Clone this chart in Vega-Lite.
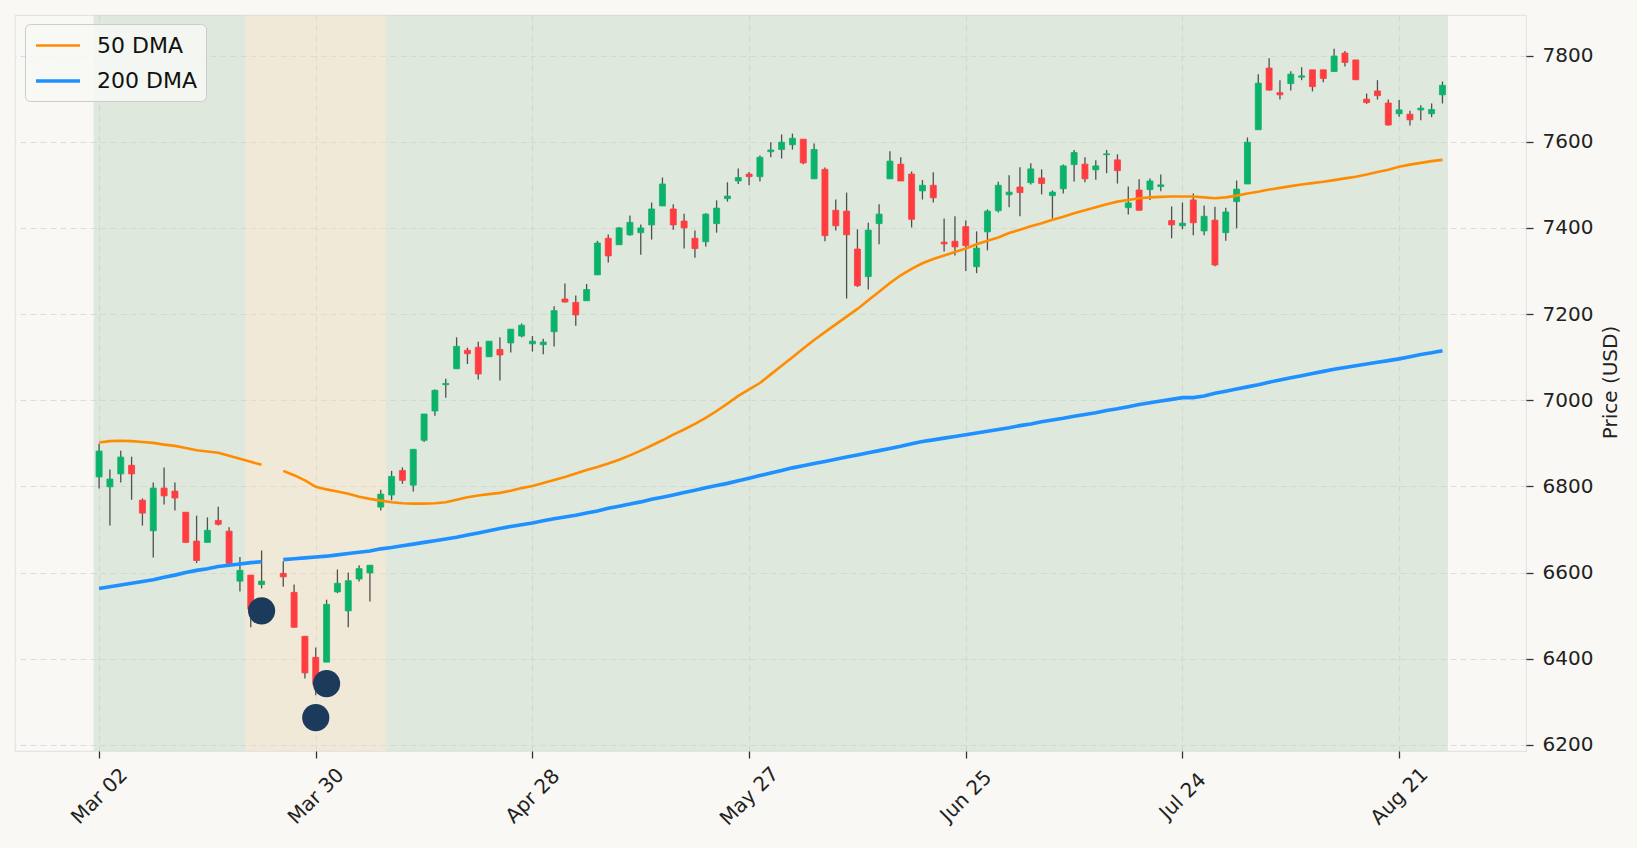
{
  "$schema": "https://vega.github.io/schema/vega-lite/v6.json",
  "autosize": {"type": "none"},
  "padding": {"left": 15, "top": 15, "right": 111, "bottom": 97},
  "width": 1511,
  "height": 736,
  "background": "#f9f8f4",
  "config": {
    "font": "DejaVu Sans",
    "view": {"stroke": "#e4e4e4", "strokeWidth": 1.2},
    "axis": {"labelFont": "DejaVu Sans", "titleFont": "DejaVu Sans"}
  },
  "datasets": {
    "regimes": [
      {"x0": -0.5, "x1": 13.5, "regime": "up"},
      {"x0": 13.5, "x1": 26.5, "regime": "down"},
      {"x0": 26.5, "x1": 124.5, "regime": "up"}
    ],
    "signals": [
      {"i": 15, "v": 6511},
      {"i": 20, "v": 6263},
      {"i": 21, "v": 6342}
    ],
    "bars": [
      {"i":0,"o":6822,"h":6899,"l":6795,"c":6882,"m50":6902,"m200":6563},
      {"i":1,"o":6799,"h":6839,"l":6709,"c":6817,"m50":6905,"m200":6567},
      {"i":2,"o":6829,"h":6883,"l":6809,"c":6868,"m50":6906,"m200":6571},
      {"i":3,"o":6849,"h":6869,"l":6769,"c":6829,"m50":6905,"m200":6575},
      {"i":4,"o":6768,"h":6772,"l":6709,"c":6738,"m50":6903,"m200":6579},
      {"i":5,"o":6697,"h":6809,"l":6635,"c":6796,"m50":6901,"m200":6583},
      {"i":6,"o":6796,"h":6844,"l":6758,"c":6778,"m50":6897,"m200":6589},
      {"i":7,"o":6789,"h":6809,"l":6744,"c":6773,"m50":6894,"m200":6594},
      {"i":8,"o":6740,"h":6740,"l":6669,"c":6670,"m50":6889,"m200":6600},
      {"i":9,"o":6673,"h":6732,"l":6622,"c":6628,"m50":6884,"m200":6605},
      {"i":10,"o":6670,"h":6728,"l":6670,"c":6698,"m50":6881,"m200":6609},
      {"i":11,"o":6721,"h":6753,"l":6709,"c":6712,"m50":6878,"m200":6614},
      {"i":12,"o":6696,"h":6705,"l":6621,"c":6621,"m50":6871,"m200":6617},
      {"i":13,"o":6580,"h":6636,"l":6556,"c":6605,"m50":6864,"m200":6620},
      {"i":14,"o":6594,"h":6594,"l":6473,"c":6515,"m50":6857,"m200":6623},
      {"i":15,"o":6572,"h":6651,"l":6563,"c":6580,"m50":6850,"m200":6625},
      {"i":16,"o":null,"h":null,"l":null,"c":null,"m50":null,"m200":null},
      {"i":17,"o":6598,"h":6626,"l":6567,"c":6590,"m50":6836,"m200":6630},
      {"i":18,"o":6554,"h":6572,"l":6472,"c":6473,"m50":6826,"m200":6632},
      {"i":19,"o":6452,"h":6452,"l":6354,"c":6367,"m50":6814,"m200":6634},
      {"i":20,"o":6403,"h":6426,"l":6315,"c":6340,"m50":6799,"m200":6636},
      {"i":21,"o":6392,"h":6537,"l":6392,"c":6526,"m50":6793,"m200":6638},
      {"i":22,"o":6555,"h":6607,"l":6552,"c":6575,"m50":6788,"m200":6641},
      {"i":23,"o":6511,"h":6600,"l":6473,"c":6581,"m50":6783,"m200":6644},
      {"i":24,"o":6585,"h":6617,"l":6579,"c":6609,"m50":6776,"m200":6647},
      {"i":25,"o":6599,"h":6617,"l":6533,"c":6617,"m50":6771,"m200":6650},
      {"i":26,"o":6752,"h":6792,"l":6744,"c":6782,"m50":6767,"m200":6655},
      {"i":27,"o":6780,"h":6836,"l":6768,"c":6823,"m50":6763,"m200":6658},
      {"i":28,"o":6837,"h":6844,"l":6806,"c":6814,"m50":6761,"m200":6662},
      {"i":29,"o":6803,"h":6886,"l":6788,"c":6886,"m50":6760,"m200":6666},
      {"i":30,"o":6907,"h":6968,"l":6903,"c":6968,"m50":6760,"m200":6670},
      {"i":31,"o":6975,"h":7025,"l":6964,"c":7023,"m50":6761,"m200":6674},
      {"i":32,"o":7036,"h":7050,"l":7006,"c":7039,"m50":6763,"m200":6678},
      {"i":33,"o":7073,"h":7146,"l":7073,"c":7125,"m50":6769,"m200":6682},
      {"i":34,"o":7116,"h":7122,"l":7084,"c":7108,"m50":6775,"m200":6687},
      {"i":35,"o":7123,"h":7136,"l":7048,"c":7061,"m50":6779,"m200":6692},
      {"i":36,"o":7101,"h":7137,"l":7101,"c":7137,"m50":6782,"m200":6697},
      {"i":37,"o":7118,"h":7146,"l":7046,"c":7105,"m50":6785,"m200":6702},
      {"i":38,"o":7133,"h":7165,"l":7111,"c":7165,"m50":6790,"m200":6707},
      {"i":39,"o":7149,"h":7178,"l":7146,"c":7174,"m50":6796,"m200":6711},
      {"i":40,"o":7131,"h":7149,"l":7113,"c":7137,"m50":6801,"m200":6715},
      {"i":41,"o":7129,"h":7143,"l":7107,"c":7135,"m50":6808,"m200":6720},
      {"i":42,"o":7159,"h":7218,"l":7125,"c":7208,"m50":6815,"m200":6725},
      {"i":43,"o":7235,"h":7271,"l":7227,"c":7228,"m50":6822,"m200":6729},
      {"i":44,"o":7227,"h":7243,"l":7173,"c":7198,"m50":6830,"m200":6733},
      {"i":45,"o":7231,"h":7270,"l":7231,"c":7257,"m50":6838,"m200":6738},
      {"i":46,"o":7291,"h":7370,"l":7291,"c":7365,"m50":6845,"m200":6743},
      {"i":47,"o":7376,"h":7385,"l":7320,"c":7335,"m50":6853,"m200":6749},
      {"i":48,"o":7361,"h":7402,"l":7361,"c":7400,"m50":6862,"m200":6754},
      {"i":49,"o":7384,"h":7429,"l":7382,"c":7413,"m50":6872,"m200":6759},
      {"i":50,"o":7389,"h":7408,"l":7338,"c":7400,"m50":6883,"m200":6764},
      {"i":51,"o":7407,"h":7459,"l":7373,"c":7444,"m50":6895,"m200":6770},
      {"i":52,"o":7451,"h":7517,"l":7451,"c":7502,"m50":6907,"m200":6775},
      {"i":53,"o":7444,"h":7455,"l":7396,"c":7407,"m50":6920,"m200":6780},
      {"i":54,"o":7416,"h":7433,"l":7352,"c":7400,"m50":6932,"m200":6786},
      {"i":55,"o":7376,"h":7394,"l":7331,"c":7352,"m50":6945,"m200":6791},
      {"i":56,"o":7368,"h":7434,"l":7357,"c":7432,"m50":6959,"m200":6797},
      {"i":57,"o":7410,"h":7464,"l":7389,"c":7446,"m50":6975,"m200":6802},
      {"i":58,"o":7468,"h":7506,"l":7461,"c":7474,"m50":6992,"m200":6807},
      {"i":59,"o":7509,"h":7538,"l":7502,"c":7517,"m50":7010,"m200":6813},
      {"i":60,"o":7525,"h":7530,"l":7499,"c":7519,"m50":7025,"m200":6819},
      {"i":61,"o":7519,"h":7568,"l":7508,"c":7564,"m50":7040,"m200":6825},
      {"i":62,"o":7577,"h":7599,"l":7564,"c":7581,"m50":7060,"m200":6831},
      {"i":63,"o":7582,"h":7617,"l":7561,"c":7599,"m50":7080,"m200":6837},
      {"i":64,"o":7593,"h":7619,"l":7582,"c":7608,"m50":7100,"m200":6843},
      {"i":65,"o":7606,"h":7606,"l":7548,"c":7551,"m50":7120,"m200":6848},
      {"i":66,"o":7514,"h":7596,"l":7514,"c":7582,"m50":7140,"m200":6853},
      {"i":67,"o":7536,"h":7540,"l":7369,"c":7382,"m50":7158,"m200":6858},
      {"i":68,"o":7441,"h":7466,"l":7394,"c":7405,"m50":7176,"m200":6863},
      {"i":69,"o":7439,"h":7482,"l":7236,"c":7384,"m50":7194,"m200":6868},
      {"i":70,"o":7351,"h":7397,"l":7263,"c":7266,"m50":7212,"m200":6873},
      {"i":71,"o":7287,"h":7412,"l":7257,"c":7395,"m50":7232,"m200":6878},
      {"i":72,"o":7410,"h":7455,"l":7362,"c":7432,"m50":7252,"m200":6883},
      {"i":73,"o":7514,"h":7578,"l":7514,"c":7555,"m50":7272,"m200":6888},
      {"i":74,"o":7548,"h":7564,"l":7509,"c":7509,"m50":7290,"m200":6893},
      {"i":75,"o":7525,"h":7531,"l":7401,"c":7420,"m50":7305,"m200":6899},
      {"i":76,"o":7486,"h":7511,"l":7466,"c":7499,"m50":7318,"m200":6904},
      {"i":77,"o":7499,"h":7529,"l":7459,"c":7470,"m50":7328,"m200":6908},
      {"i":78,"o":7367,"h":7422,"l":7345,"c":7363,"m50":7336,"m200":6912},
      {"i":79,"o":7369,"h":7427,"l":7336,"c":7356,"m50":7344,"m200":6916},
      {"i":80,"o":7403,"h":7417,"l":7300,"c":7359,"m50":7352,"m200":6920},
      {"i":81,"o":7310,"h":7392,"l":7295,"c":7353,"m50":7362,"m200":6924},
      {"i":82,"o":7391,"h":7443,"l":7348,"c":7439,"m50":7370,"m200":6928},
      {"i":83,"o":7440,"h":7507,"l":7436,"c":7499,"m50":7378,"m200":6932},
      {"i":84,"o":7477,"h":7522,"l":7448,"c":7483,"m50":7388,"m200":6936},
      {"i":85,"o":7495,"h":7541,"l":7427,"c":7482,"m50":7396,"m200":6941},
      {"i":86,"o":7505,"h":7550,"l":7501,"c":7537,"m50":7404,"m200":6945},
      {"i":87,"o":7516,"h":7536,"l":7478,"c":7503,"m50":7411,"m200":6950},
      {"i":88,"o":7475,"h":7487,"l":7422,"c":7483,"m50":7419,"m200":6954},
      {"i":89,"o":7491,"h":7547,"l":7480,"c":7544,"m50":7426,"m200":6958},
      {"i":90,"o":7547,"h":7581,"l":7508,"c":7575,"m50":7434,"m200":6963},
      {"i":91,"o":7548,"h":7564,"l":7506,"c":7514,"m50":7441,"m200":6967},
      {"i":92,"o":7535,"h":7557,"l":7512,"c":7544,"m50":7448,"m200":6971},
      {"i":93,"o":7570,"h":7581,"l":7527,"c":7572,"m50":7455,"m200":6976},
      {"i":94,"o":7558,"h":7571,"l":7503,"c":7533,"m50":7461,"m200":6980},
      {"i":95,"o":7447,"h":7496,"l":7431,"c":7458,"m50":7465,"m200":6985},
      {"i":96,"o":7488,"h":7513,"l":7441,"c":7441,"m50":7469,"m200":6990},
      {"i":97,"o":7489,"h":7515,"l":7465,"c":7509,"m50":7471,"m200":6994},
      {"i":98,"o":7496,"h":7524,"l":7485,"c":7500,"m50":7472,"m200":6998},
      {"i":99,"o":7417,"h":7450,"l":7376,"c":7407,"m50":7473,"m200":7002},
      {"i":100,"o":7405,"h":7459,"l":7397,"c":7411,"m50":7473,"m200":7006},
      {"i":101,"o":7465,"h":7480,"l":7383,"c":7412,"m50":7473,"m200":7006},
      {"i":102,"o":7393,"h":7452,"l":7383,"c":7427,"m50":7471,"m200":7010},
      {"i":103,"o":7418,"h":7449,"l":7311,"c":7314,"m50":7469,"m200":7016},
      {"i":104,"o":7389,"h":7447,"l":7370,"c":7437,"m50":7471,"m200":7021},
      {"i":105,"o":7461,"h":7510,"l":7399,"c":7490,"m50":7475,"m200":7026},
      {"i":106,"o":7502,"h":7610,"l":7502,"c":7599,"m50":7480,"m200":7031},
      {"i":107,"o":7628,"h":7757,"l":7628,"c":7736,"m50":7484,"m200":7036},
      {"i":108,"o":7771,"h":7794,"l":7719,"c":7720,"m50":7489,"m200":7042},
      {"i":109,"o":7714,"h":7743,"l":7698,"c":7709,"m50":7493,"m200":7047},
      {"i":110,"o":7735,"h":7764,"l":7719,"c":7757,"m50":7497,"m200":7052},
      {"i":111,"o":7750,"h":7773,"l":7743,"c":7753,"m50":7501,"m200":7057},
      {"i":112,"o":7767,"h":7767,"l":7717,"c":7728,"m50":7504,"m200":7062},
      {"i":113,"o":7767,"h":7767,"l":7738,"c":7747,"m50":7507,"m200":7067},
      {"i":114,"o":7763,"h":7816,"l":7763,"c":7799,"m50":7511,"m200":7072},
      {"i":115,"o":7806,"h":7811,"l":7775,"c":7784,"m50":7515,"m200":7076},
      {"i":116,"o":7790,"h":7790,"l":7744,"c":7744,"m50":7519,"m200":7080},
      {"i":117,"o":7699,"h":7712,"l":7688,"c":7691,"m50":7524,"m200":7084},
      {"i":118,"o":7718,"h":7743,"l":7698,"c":7707,"m50":7530,"m200":7088},
      {"i":119,"o":7690,"h":7698,"l":7637,"c":7639,"m50":7535,"m200":7092},
      {"i":120,"o":7665,"h":7697,"l":7658,"c":7674,"m50":7542,"m200":7096},
      {"i":121,"o":7664,"h":7672,"l":7638,"c":7651,"m50":7547,"m200":7101},
      {"i":122,"o":7674,"h":7685,"l":7650,"c":7678,"m50":7551,"m200":7106},
      {"i":123,"o":7665,"h":7689,"l":7657,"c":7675,"m50":7555,"m200":7110},
      {"i":124,"o":7709,"h":7740,"l":7689,"c":7731,"m50":7558,"m200":7115}
    ]
  },
  "layer": [
    {
      "data": {"name": "regimes"},
      "mark": {"type": "rect", "opacity": 0.5},
      "encoding": {
        "x": {
          "field": "x0", "type": "quantitative",
          "scale": {"domain": [-7.3, 131.25], "nice": false, "zero": false},
          "axis": {
            "title": null,
            "values": [0, 20, 40, 60, 80, 100, 120],
            "labelExpr": "datum.value == 0 ? 'Mar 02' : datum.value == 20 ? 'Mar 30' : datum.value == 40 ? 'Apr 28' : datum.value == 60 ? 'May 27' : datum.value == 80 ? 'Jun 25' : datum.value == 100 ? 'Jul 24' : 'Aug 21'",
            "labelAngle": -45,
            "labelAlign": "center",
            "labelBaseline": "middle",
            "labelPadding": 38,
            "labelFontSize": 20,
            "labelColor": "#222222",
            "tickSize": 7,
            "tickWidth": 1.3,
            "tickColor": "#333333",
            "domain": false,
            "grid": true,
            "gridDash": [6, 4],
            "gridColor": "#dcdcdc",
            "gridWidth": 1.2
          }
        },
        "x2": {"field": "x1"},
        "fill": {
          "field": "regime", "type": "nominal",
          "scale": {"domain": ["up", "down"], "range": ["#c3d8c6", "#e9daba"]},
          "legend": null
        }
      }
    },
    {
      "data": {"name": "bars"},
      "mark": {"type": "rule", "color": "#505050", "strokeWidth": 1.3},
      "encoding": {
        "x": {"field": "i", "type": "quantitative", "scale": {"domain": [-7.3, 131.25], "nice": false, "zero": false}},
        "y": {
          "field": "l", "type": "quantitative",
          "scale": {"domain": [6185.7, 7894.3], "nice": false, "zero": false},
          "axis": {
            "orient": "right",
            "title": "Price (USD)",
            "values": [6200, 6400, 6600, 6800, 7000, 7200, 7400, 7600, 7800],
            "format": "d",
            "labelFontSize": 20,
            "labelColor": "#222222",
            "labelPadding": 9,
            "tickSize": 7,
            "tickWidth": 1.3,
            "tickColor": "#333333",
            "domain": false,
            "grid": true,
            "gridDash": [6, 4],
            "gridColor": "#dcdcdc",
            "gridWidth": 1.2,
            "titleFontSize": 20,
            "titleFontWeight": "normal",
            "titleColor": "#222222",
            "titleAngle": 270,
            "titleAlign": "center",
            "titleBaseline": "middle",
            "titleX": 84,
            "titleY": 367
          }
        },
        "y2": {"field": "h"}
      }
    },
    {
      "data": {"name": "bars"},
      "mark": {"type": "bar", "size": 6, "strokeWidth": 0.8},
      "encoding": {
        "x": {"field": "i", "type": "quantitative", "scale": {"domain": [-7.3, 131.25], "nice": false, "zero": false}},
        "y": {"field": "o", "type": "quantitative", "scale": {"domain": [6185.7, 7894.3], "nice": false, "zero": false}},
        "y2": {"field": "c"},
        "fill": {"condition": {"test": "datum.c >= datum.o", "value": "#0bb26a"}, "value": "#ff3c3f"},
        "stroke": {"condition": {"test": "datum.c >= datum.o", "value": "#0bb26a"}, "value": "#ff3c3f"}
      }
    },
    {
      "data": {"name": "bars"},
      "transform": [{"fold": ["m50", "m200"], "as": ["s", "v"]}],
      "mark": {"type": "line", "interpolate": "linear"},
      "encoding": {
        "x": {"field": "i", "type": "quantitative", "scale": {"domain": [-7.3, 131.25], "nice": false, "zero": false}},
        "y": {"field": "v", "type": "quantitative", "scale": {"domain": [6185.7, 7894.3], "nice": false, "zero": false}},
        "detail": {"field": "s"},
        "color": {
          "field": "s", "type": "nominal",
          "scale": {"domain": ["m50", "m200"], "range": ["#ff8c00", "#1e90ff"]},
          "legend": {
            "title": null,
            "orient": "none",
            "legendX": 10,
            "legendY": 9,
            "labelExpr": "datum.label == 'm50' ? '50 DMA' : '200 DMA'",
            "symbolType": "M-1,0H3",
            "symbolSize": 484,
            "labelFontSize": 22,
            "labelColor": "#111111",
            "labelOffset": 37,
            "rowPadding": 11,
            "padding": 9,
            "fillColor": "rgba(248,248,244,0.85)",
            "strokeColor": "#cccccc",
            "cornerRadius": 5
          }
        },
        "strokeWidth": {
          "field": "s", "type": "nominal",
          "scale": {"domain": ["m50", "m200"], "range": [2.6, 3.6]},
          "legend": {
            "title": null,
            "orient": "none",
            "legendX": 10,
            "legendY": 9,
            "labelExpr": "datum.label == 'm50' ? '50 DMA' : '200 DMA'",
            "symbolType": "M-1,0H3",
            "symbolSize": 484,
            "labelFontSize": 22,
            "labelColor": "#111111",
            "labelOffset": 37,
            "rowPadding": 11,
            "padding": 9,
            "fillColor": "rgba(248,248,244,0.85)",
            "strokeColor": "#cccccc",
            "cornerRadius": 5
          }
        }
      }
    },
    {
      "data": {"name": "signals"},
      "mark": {"type": "point", "filled": true, "size": 740, "color": "#1b3a5c", "opacity": 1},
      "encoding": {
        "x": {"field": "i", "type": "quantitative", "scale": {"domain": [-7.3, 131.25], "nice": false, "zero": false}},
        "y": {"field": "v", "type": "quantitative", "scale": {"domain": [6185.7, 7894.3], "nice": false, "zero": false}}
      }
    }
  ]
}
